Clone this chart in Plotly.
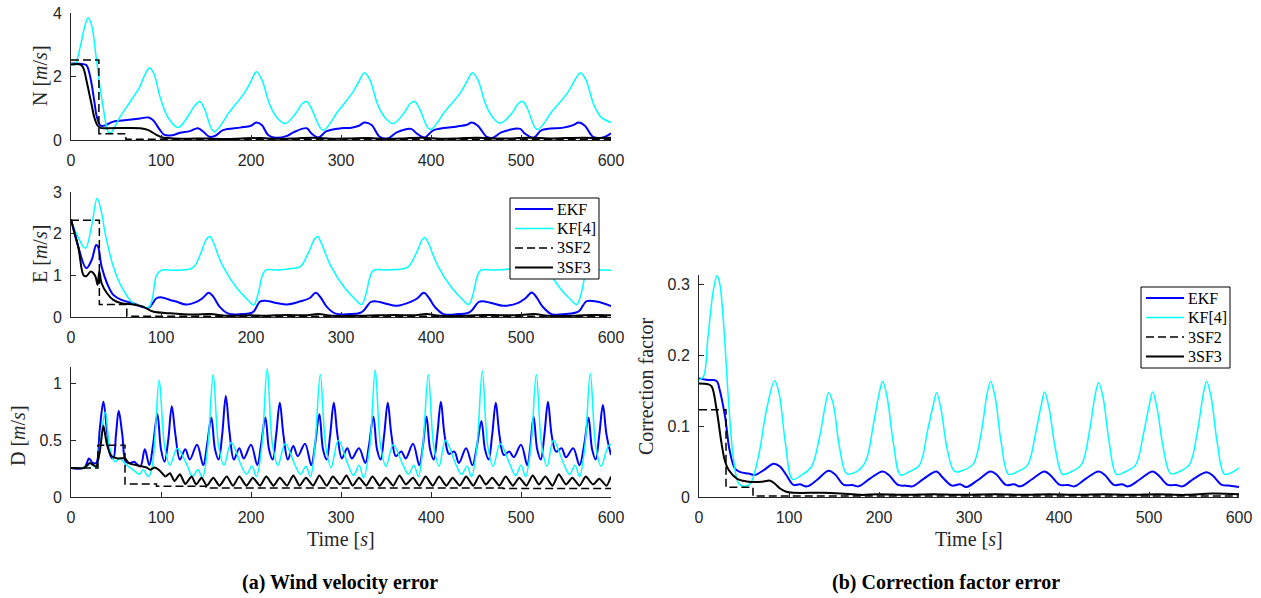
import plotly.graph_objects as go

# ---------------- data ----------------
# ---- N panel ----
N_t_ekf = [0, 10, 17, 20, 23, 26, 29, 33, 38, 47, 62, 77, 86, 91, 99, 104, 114, 121, 132, 141,
           147, 154, 160, 169, 188, 200, 206, 212, 219, 227, 240, 247, 262, 267, 275, 284, 300, 310, 320, 326,
           334, 343, 352, 362, 378, 384, 393, 403, 428, 440, 445, 452, 462, 469, 478, 499, 504, 514, 523, 547,
           558, 564, 571, 580, 590, 600]
N_ekf = [2.41, 2.40, 2.36, 2.15, 1.75, 1.2, 0.7, 0.45, 0.46, 0.58, 0.63, 0.68, 0.71, 0.63, 0.31, 0.16, 0.16, 0.23, 0.28, 0.37,
         0.26, 0.10, 0.13, 0.31, 0.39, 0.45, 0.55, 0.47, 0.16, 0.07, 0.13, 0.24, 0.37, 0.21, 0.08, 0.28, 0.37, 0.38, 0.45, 0.55,
         0.47, 0.10, 0.05, 0.24, 0.35, 0.21, 0.08, 0.31, 0.42, 0.48, 0.55, 0.45, 0.10, 0.07, 0.24, 0.35, 0.21, 0.07, 0.31, 0.39,
         0.47, 0.55, 0.45, 0.10, 0.07, 0.21]
N_t_kf = [0, 4, 10, 15, 19, 23, 28, 35, 43, 55, 68, 76, 82, 87, 92, 99, 108, 119, 130, 138,
          143, 148, 159, 176, 193, 200, 206, 212, 221, 229, 238, 250, 257, 262, 267, 280, 297, 313, 320, 326,
          332, 341, 349, 358, 370, 377, 382, 387, 399, 416, 433, 440, 446, 452, 461, 469, 477, 490, 497, 502,
          507, 518, 535, 552, 559, 566, 572, 581, 589, 600]
N_kf = [2.45, 2.35, 2.9, 3.55, 3.85, 3.6, 2.6, 1.15, 0.21, 0.75, 1.3, 1.65, 2.05, 2.27, 2.1, 1.35, 0.7, 0.39, 0.75, 1.1,
        1.21, 1.0, 0.26, 0.88, 1.5, 1.85, 2.15, 1.9, 1.1, 0.7, 0.52, 0.85, 1.15, 1.21, 1.0, 0.31, 0.92, 1.5, 1.85, 2.12,
        1.9, 1.1, 0.7, 0.52, 0.85, 1.15, 1.21, 1.0, 0.33, 0.92, 1.5, 1.85, 2.12, 1.9, 1.1, 0.7, 0.53, 0.85, 1.15, 1.21,
        1.0, 0.33, 0.92, 1.5, 1.85, 2.12, 1.9, 1.1, 0.72, 0.55]
N_t_3sf2 = [0, 31, 61, 600]
N_3sf2 = [2.52, 0.2, 0.025, 0.025]
N_t_3sf3 = [0, 11, 14, 17, 20, 23, 26, 29, 32, 40, 60, 77, 86, 95, 103, 114, 130, 150, 170, 190,
            210, 230, 250, 270, 290, 310, 330, 350, 370, 390, 410, 430, 450, 470, 490, 510, 530, 550, 570, 590, 600]
N_3sf3 = [2.38, 2.37, 2.25, 1.9, 1.5, 1.1, 0.7, 0.48, 0.39, 0.37, 0.38, 0.37, 0.31, 0.16, 0.07, 0.05, 0.04, 0.05, 0.03, 0.05,
          0.06, 0.04, 0.05, 0.07, 0.04, 0.05, 0.06, 0.04, 0.05, 0.07, 0.04, 0.05, 0.07, 0.05, 0.05, 0.07, 0.05, 0.06, 0.07, 0.06, 0.07]

# ---- E panel ----
E_t_ekf = [0, 8, 17, 23, 28, 30, 34, 40, 47, 56, 69, 86, 95, 101, 110, 117, 128, 140, 146, 153,
           158, 165, 175, 190, 199, 203, 210, 216, 230, 240, 254, 265, 272, 278, 284, 294, 310, 320, 325, 333,
           338, 350, 362, 378, 385, 392, 398, 404, 414, 430, 440, 445, 453, 458, 470, 480, 497, 505, 512, 518,
           524, 534, 550, 560, 565, 573, 584, 600]
E_ekf = [2.34, 1.69, 1.17, 1.37, 1.73, 1.69, 1.21, 0.81, 0.53, 0.41, 0.33, 0.22, 0.45, 0.47, 0.41, 0.37, 0.3, 0.37, 0.45, 0.58,
         0.49, 0.25, 0.08, 0.07, 0.09, 0.13, 0.37, 0.39, 0.33, 0.3, 0.37, 0.45, 0.58, 0.45, 0.25, 0.08, 0.07, 0.09, 0.15, 0.36,
         0.38, 0.32, 0.27, 0.37, 0.45, 0.58, 0.45, 0.25, 0.07, 0.07, 0.09, 0.15, 0.36, 0.38, 0.32, 0.27, 0.34, 0.45, 0.59, 0.45,
         0.25, 0.07, 0.07, 0.1, 0.15, 0.38, 0.37, 0.26]
E_t_kf = [0, 6, 16, 23, 29, 34, 38, 47, 56, 69, 80, 86, 90, 95, 100, 115, 132, 137, 145, 150,
          154, 158, 164, 169, 184, 196, 203, 208, 212, 216, 230, 247, 255, 265, 270, 274, 278, 284, 289, 304,
          316, 323, 328, 332, 336, 350, 367, 375, 385, 390, 393, 397, 403, 408, 423, 435, 442, 447, 451, 455,
          470, 487, 495, 505, 510, 513, 517, 523, 528, 543, 555, 562, 567, 571, 576, 590, 600]
E_kf = [2.32, 2.0, 1.65, 2.2, 2.85, 2.5, 2.0, 1.21, 0.73, 0.33, 0.25, 0.22, 0.41, 1.0, 1.12, 1.12, 1.15, 1.21, 1.57, 1.85,
        1.93, 1.8, 1.45, 1.21, 0.7, 0.42, 0.29, 0.57, 0.95, 1.12, 1.13, 1.17, 1.21, 1.6, 1.85, 1.93, 1.78, 1.45, 1.21, 0.7,
        0.42, 0.3, 0.57, 0.95, 1.12, 1.13, 1.15, 1.21, 1.6, 1.85, 1.91, 1.78, 1.45, 1.21, 0.7, 0.42, 0.3, 0.57, 0.95, 1.12,
        1.13, 1.15, 1.21, 1.6, 1.85, 1.91, 1.78, 1.45, 1.21, 0.7, 0.42, 0.3, 0.57, 0.95, 1.12, 1.13, 1.12]
E_t_3sf2 = [0, 31.5, 62, 600]
E_3sf2 = [2.32, 0.3, 0.02, 0.02]
E_t_3sf3 = [0, 8, 14, 17, 22, 27, 29.5, 31.5, 34, 40, 47, 56, 69, 80, 91, 110, 136, 155, 173, 200,
            215, 240, 260, 275, 290, 320, 340, 360, 380, 395, 410, 440, 460, 480, 500, 515, 530, 560, 580, 600]
E_3sf3 = [2.34, 1.69, 1.0, 0.98, 1.09, 0.98, 0.77, 1.09, 0.81, 0.57, 0.41, 0.33, 0.3, 0.25, 0.13, 0.09, 0.06, 0.07, 0.03, 0.04,
          0.03, 0.05, 0.04, 0.07, 0.03, 0.03, 0.04, 0.05, 0.04, 0.07, 0.03, 0.03, 0.05, 0.04, 0.05, 0.07, 0.03, 0.03, 0.05, 0.04]

# ---- D panel ----
D_t_ekf = [0, 15, 20, 24, 28, 32, 36, 40, 44, 47, 50, 53, 57, 61, 66, 70, 77, 82, 87, 91,
           96, 100, 104, 108, 112, 116, 121, 127, 132, 140, 147, 151,
           156, 160, 164, 168, 172, 176, 181, 187, 192, 200, 207, 211,
           216, 220, 224, 228, 232, 236, 241, 247, 252, 260, 267, 271,
           276, 280, 284, 288, 292, 296, 301, 307, 312, 320, 327, 331,
           336, 340, 344, 348, 352, 356, 361, 367, 372, 380, 387, 391,
           395, 399, 403, 407, 411, 415, 420, 426, 431, 439, 446, 451,
           456, 460, 464, 468, 472, 476, 481, 487, 492, 500, 507, 510,
           514, 518, 522, 526, 530, 534, 539, 545, 550, 558, 565, 570,
           575, 579, 583, 587, 591, 595, 600]
D_ekf = [0.255, 0.26, 0.34, 0.3, 0.3, 0.6, 0.84, 0.58, 0.36, 0.34, 0.55, 0.76, 0.55, 0.31, 0.3, 0.31, 0.27, 0.42, 0.28, 0.45,
         0.73, 0.42, 0.31, 0.5, 0.8, 0.55, 0.33, 0.42, 0.33, 0.46, 0.28, 0.45,
         0.7, 0.42, 0.33, 0.55, 0.89, 0.58, 0.33, 0.43, 0.34, 0.46, 0.28, 0.45,
         0.7, 0.42, 0.33, 0.55, 0.83, 0.55, 0.33, 0.45, 0.36, 0.47, 0.28, 0.45,
         0.73, 0.42, 0.33, 0.55, 0.83, 0.55, 0.34, 0.43, 0.34, 0.43, 0.3, 0.45,
         0.71, 0.42, 0.33, 0.55, 0.83, 0.55, 0.36, 0.4, 0.34, 0.47, 0.28, 0.45,
         0.71, 0.42, 0.33, 0.55, 0.84, 0.55, 0.38, 0.4, 0.3, 0.43, 0.28, 0.45,
         0.67, 0.42, 0.33, 0.55, 0.83, 0.55, 0.37, 0.4, 0.35, 0.46, 0.28, 0.42,
         0.71, 0.42, 0.33, 0.55, 0.84, 0.55, 0.4, 0.43, 0.35, 0.43, 0.28, 0.45,
         0.7, 0.42, 0.33, 0.55, 0.81, 0.55, 0.37]
D_t_kf = [0, 18, 21, 28, 32, 38, 43, 49, 54, 62, 69, 76, 80, 86, 90, 93,
          98, 104, 110, 118, 129, 135, 141, 146, 152,
          158, 164, 170, 178, 189, 195, 201, 206, 212,
          218, 224, 230, 238, 249, 255, 261, 266, 271,
          277, 283, 289, 297, 308, 314, 320, 325, 332,
          338, 344, 350, 358, 369, 375, 381, 386, 391,
          397, 403, 409, 416, 428, 434, 440, 445, 451,
          457, 463, 469, 477, 488, 494, 500, 505, 511,
          517, 523, 529, 536, 548, 554, 560, 565, 571,
          577, 583, 589, 597, 600]
D_kf = [0.255, 0.27, 0.3, 0.26, 0.45, 0.75, 0.43, 0.31, 0.34, 0.28, 0.24, 0.2, 0.24, 0.18, 0.26, 0.5,
        1.03, 0.45, 0.28, 0.43, 0.28, 0.18, 0.24, 0.17, 0.45,
        1.08, 0.45, 0.28, 0.48, 0.28, 0.2, 0.27, 0.18, 0.45,
        1.13, 0.45, 0.28, 0.47, 0.28, 0.2, 0.27, 0.18, 0.45,
        1.08, 0.45, 0.26, 0.5, 0.28, 0.19, 0.28, 0.17, 0.45,
        1.12, 0.45, 0.27, 0.46, 0.28, 0.2, 0.28, 0.18, 0.45,
        1.08, 0.45, 0.27, 0.5, 0.28, 0.2, 0.27, 0.18, 0.45,
        1.11, 0.45, 0.27, 0.47, 0.28, 0.19, 0.28, 0.18, 0.45,
        1.08, 0.45, 0.27, 0.5, 0.28, 0.2, 0.28, 0.18, 0.45,
        1.09, 0.45, 0.27, 0.45, 0.46]
D_t_3sf2 = [0, 30, 60, 95, 150, 480, 600]
D_3sf2 = [0.255, 0.455, 0.115, 0.095, 0.08, 0.075, 0.075]
D_t_3sf3 = [0, 14, 18, 21, 25, 28, 32, 36, 40, 45, 52, 60, 64, 73, 84, 88, 93, 99, 105, 110,
            115, 121, 127, 134, 139, 145, 151, 158, 165, 173, 180, 187, 195, 202, 210, 217, 225, 232, 240, 247,
            254, 261, 269, 276, 284, 291, 299, 306, 313, 320, 328, 335, 343, 350, 358, 365, 372, 380, 387, 394,
            402, 409, 417, 424, 432, 439, 447, 454, 461, 468, 476, 483, 491, 498, 506, 513, 520, 527, 535, 542,
            550, 557, 565, 572, 580, 587, 595, 600]
D_3sf3 = [0.255, 0.255, 0.28, 0.3, 0.28, 0.27, 0.4, 0.63, 0.46, 0.36, 0.34, 0.34, 0.3, 0.28, 0.26, 0.24, 0.26, 0.23, 0.18, 0.21,
          0.14, 0.2, 0.115, 0.18, 0.11, 0.17, 0.1, 0.17, 0.1, 0.18, 0.1, 0.18, 0.1, 0.17, 0.1, 0.18, 0.1, 0.17, 0.1, 0.19,
          0.1, 0.17, 0.1, 0.19, 0.1, 0.18, 0.11, 0.19, 0.1, 0.17, 0.1, 0.18, 0.1, 0.17, 0.1, 0.19, 0.11, 0.17, 0.1, 0.18,
          0.1, 0.18, 0.1, 0.17, 0.1, 0.18, 0.1, 0.19, 0.11, 0.17, 0.1, 0.18, 0.1, 0.17, 0.1, 0.19, 0.11, 0.18, 0.1, 0.2,
          0.11, 0.17, 0.1, 0.18, 0.11, 0.16, 0.1, 0.18]

# ---- Correction factor panel ----
C_t_ekf = [0, 10, 16, 20, 23, 29, 34, 40, 46, 55, 62, 72, 83, 90, 97, 105, 112, 120, 131,
           144, 151, 161, 170, 177, 190,
           204, 211, 221, 230, 237, 250,
           264, 271, 281, 290, 297, 310,
           324, 331, 341, 350, 357, 370,
           384, 391, 401, 410, 417, 430,
           444, 451, 461, 470, 477, 490,
           504, 511, 521, 530, 537, 550,
           564, 571, 581, 590, 600]
C_ekf = [0.167, 0.165, 0.165, 0.163, 0.151, 0.113, 0.066, 0.04, 0.035, 0.033, 0.031, 0.038, 0.047, 0.043, 0.031, 0.017, 0.018, 0.015, 0.024,
         0.037, 0.032, 0.017, 0.017, 0.015, 0.026,
         0.036, 0.031, 0.017, 0.016, 0.015, 0.026,
         0.036, 0.027, 0.016, 0.018, 0.014, 0.024,
         0.036, 0.031, 0.017, 0.018, 0.015, 0.025,
         0.036, 0.03, 0.017, 0.017, 0.015, 0.026,
         0.036, 0.031, 0.017, 0.018, 0.015, 0.025,
         0.036, 0.03, 0.017, 0.017, 0.015, 0.026,
         0.035, 0.03, 0.017, 0.016, 0.014]
C_t_kf = [0, 5, 10, 16, 20, 23, 27, 33, 38, 44, 50, 57, 66, 75,
          84, 89, 96, 104, 114, 125, 134, 140,
          144, 149, 156, 164, 174, 185, 194, 200,
          204, 209, 216, 224, 234, 245, 254, 260,
          264, 269, 276, 284, 294, 305, 314, 320,
          324, 329, 336, 344, 354, 365, 374, 380,
          384, 389, 396, 404, 414, 425, 434, 440,
          444, 449, 456, 464, 474, 485, 494, 500,
          504, 509, 516, 524, 534, 545, 554, 560,
          564, 569, 576, 584, 594, 600]
C_kf = [0.165, 0.17, 0.226, 0.292, 0.312, 0.301, 0.25, 0.132, 0.057, 0.019, 0.015, 0.019, 0.057, 0.123,
        0.164, 0.146, 0.076, 0.025, 0.031, 0.043, 0.085, 0.127,
        0.147, 0.132, 0.071, 0.033, 0.035, 0.05, 0.104, 0.145,
        0.163, 0.141, 0.076, 0.031, 0.036, 0.045, 0.094, 0.128,
        0.147, 0.123, 0.066, 0.036, 0.038, 0.047, 0.094, 0.145,
        0.163, 0.141, 0.075, 0.032, 0.036, 0.045, 0.09, 0.128,
        0.148, 0.125, 0.068, 0.032, 0.036, 0.046, 0.094, 0.143,
        0.161, 0.14, 0.075, 0.032, 0.036, 0.045, 0.09, 0.128,
        0.148, 0.125, 0.068, 0.033, 0.036, 0.046, 0.094, 0.143,
        0.163, 0.141, 0.075, 0.032, 0.036, 0.041]
C_t_3sf2 = [0, 30, 60, 600]
C_3sf2 = [0.123, 0.0136, 0.0014, 0.0014]
C_t_3sf3 = [0, 10, 14, 19.6, 25, 29, 33, 42, 53, 64, 72, 79, 84, 90, 97, 105, 138, 157, 180, 200,
            230, 260, 290, 330, 360, 390, 420, 450, 480, 510, 540, 570, 600]
C_3sf3 = [0.16, 0.159, 0.156, 0.123, 0.076, 0.05, 0.038, 0.026, 0.022, 0.021, 0.022, 0.023, 0.019, 0.012, 0.0075, 0.006, 0.006, 0.005, 0.003, 0.004,
          0.003, 0.004, 0.003, 0.004, 0.003, 0.004, 0.003, 0.004, 0.003, 0.004, 0.003, 0.005, 0.004]

series_names = ["EKF", "KF[4]", "3SF2", "3SF3"]
x_ticks = [0, 100, 200, 300, 400, 500, 600]

# ---------------- figure ----------------
W, H = 1261, 598
def fx(p):
    return p / W
def fy(p):
    return 1 - p / H

BLUE, CYAN, BLACK = "#0000FF", "#00FFFF", "#000000"
AX = "#262626"
DASH = "8px,4px"
COLORS = [BLUE, CYAN, BLACK, BLACK]
WIDTHS = [2.0, 1.5, 1.5, 2.0]
DASHES = [None, None, DASH, None]

fig = go.Figure()

def add(panel, t, v, idx, shape="spline", smooth=1.0):
    sfx = "" if panel == 1 else str(panel)
    fig.add_trace(go.Scatter(
        x=t, y=v, mode="lines", name=series_names[idx],
        line=dict(color=COLORS[idx], width=WIDTHS[idx], dash=DASHES[idx], shape=shape,
                  smoothing=smooth if shape == "spline" else None),
        xaxis="x" + sfx, yaxis="y" + sfx, showlegend=False, hoverinfo="skip"))

panels = [
    (1, (N_t_ekf, N_ekf), (N_t_kf, N_kf), (N_t_3sf2, N_3sf2), (N_t_3sf3, N_3sf3)),
    (2, (E_t_ekf, E_ekf), (E_t_kf, E_kf), (E_t_3sf2, E_3sf2), (E_t_3sf3, E_3sf3)),
    (3, (D_t_ekf, D_ekf), (D_t_kf, D_kf), (D_t_3sf2, D_3sf2), (D_t_3sf3, D_3sf3)),
    (4, (C_t_ekf, C_ekf), (C_t_kf, C_kf), (C_t_3sf2, C_3sf2), (C_t_3sf3, C_3sf3)),
]
for p, ekf, kf, s2, s3 in panels:
    add(p, ekf[0], ekf[1], 0)
    add(p, kf[0], kf[1], 1)
    add(p, s2[0], s2[1], 2, shape="hv")
    add(p, s3[0], s3[1], 3, smooth=0.6 if p == 3 else 1.0)

tickfont = dict(family="Liberation Sans, Arial, sans-serif", size=16, color=AX)
def xax(dom, anchor):
    return dict(domain=dom, anchor=anchor, range=[0, 600], tickvals=x_ticks,
                ticks="inside", ticklen=5, tickwidth=1, tickcolor=AX,
                showline=True, linecolor=AX, linewidth=1, showgrid=False, zeroline=False,
                tickfont=tickfont, ticklabelstandoff=6, fixedrange=True, automargin=False,
                ticklabeloverflow="allow")
def yax(dom, anchor, rng, tv, tt):
    return dict(domain=dom, anchor=anchor, range=rng, tickvals=tv, ticktext=tt,
                ticks="inside", ticklen=5, tickwidth=1, tickcolor=AX,
                showline=True, linecolor=AX, linewidth=1, showgrid=False, zeroline=False,
                tickfont=tickfont, ticklabelstandoff=5, fixedrange=True, automargin=False,
                ticklabeloverflow="allow")

LX = [fx(71), fx(611)]
RX = [fx(699), fx(1239)]
fig.update_layout(
    width=W, height=H, autosize=False,
    margin=dict(l=0, r=0, t=0, b=0, autoexpand=False),
    paper_bgcolor="white", plot_bgcolor="white",
    xaxis=xax(LX, "y"),
    yaxis=yax([fy(140), fy(13)], "x", [0, 4], [0, 2, 4], ["0", "2", "4"]),
    xaxis2=xax(LX, "y2"),
    yaxis2=yax([fy(317), fy(192)], "x2", [0, 3], [0, 1, 2, 3], ["0", "1", "2", "3"]),
    xaxis3=xax(LX, "y3"),
    yaxis3=yax([fy(497), fy(366.5)], "x3", [0, 1.15], [0, 0.5, 1], ["0", "0.5", "1"]),
    xaxis4=xax(RX, "y4"),
    yaxis4=yax([fy(497), fy(275)], "x4", [0, 0.313], [0, 0.1, 0.2, 0.3], ["0", "0.1", "0.2", "0.3"]),
    showlegend=False,
)

serif = "Liberation Serif, Times New Roman, serif"
def ann(text, x, y, size=20, angle=0, color=AX, xanchor="center"):
    fig.add_annotation(text=text, x=fx(x), y=fy(y), xref="paper", yref="paper",
                       showarrow=False, textangle=angle, xanchor=xanchor, yanchor="middle",
                       font=dict(family=serif, size=size, color=color))

# legends drawn as a white box over the curves, like the reference
def legend_box(left, top):
    fig.add_shape(type="rect", xref="paper", yref="paper",
                  x0=fx(left), x1=fx(left + 89), y0=fy(top + 81), y1=fy(top),
                  fillcolor="white", line=dict(color="black", width=1), layer="above")
    for i, name in enumerate(series_names):
        yy = top + 11 + 19.5 * i
        fig.add_shape(type="line", xref="paper", yref="paper",
                      x0=fx(left + 5), x1=fx(left + 43), y0=fy(yy), y1=fy(yy),
                      line=dict(color=COLORS[i], width=WIDTHS[i], dash=DASHES[i]), layer="above")
        ann(name, left + 45, yy, size=16, color="black", xanchor="left")

legend_box(510, 198)
legend_box(1141, 287)

ann("N [<i>m</i>/<i>s</i>]", 40, 76, angle=-90)
ann("E [<i>m</i>/<i>s</i>]", 40, 254, angle=-90)
ann("D [<i>m</i>/<i>s</i>]", 18, 436, angle=-90)
ann("Correction factor", 646, 387, angle=-90)
ann("Time [<i>s</i>]", 341, 539)
ann("Time [<i>s</i>]", 969, 539)
ann("<b>(a) Wind velocity error</b>", 340, 582, size=20, color="black")
ann("<b>(b) Correction factor error</b>", 946, 582, size=20, color="black")

# remove the default 8px page margin so the figure fills the window exactly
fig.write_html("out.html",
               config={"displayModeBar": False},
               post_script="document.body.style.margin='0px';document.body.style.overflow='hidden';")
